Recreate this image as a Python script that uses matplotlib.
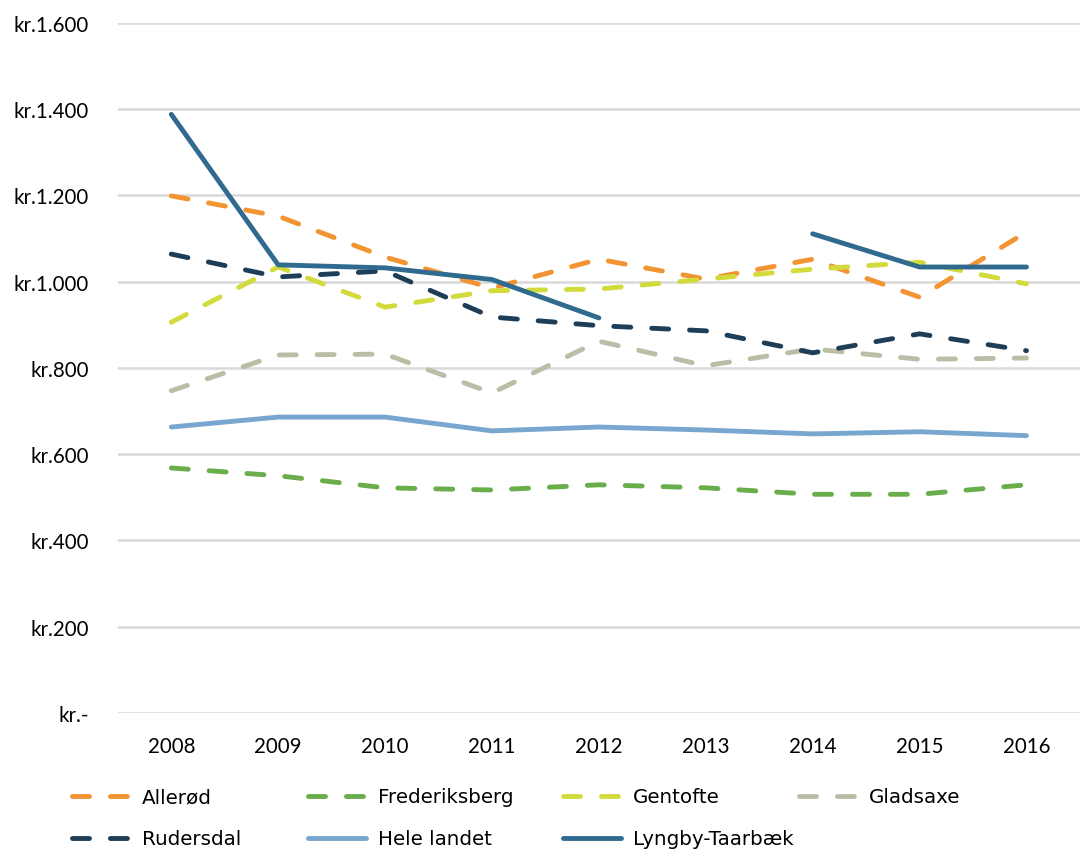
import numpy as np
import matplotlib
matplotlib.use("Agg")
import matplotlib.pyplot as plt
from matplotlib.ticker import FuncFormatter

plt.rcParams['font.family'] = ['Lato', 'DejaVu Sans']

years = ['2008', '2009', '2010', '2011', '2012', '2013', '2014', '2015', '2016']

allerod = [1199, 1152, 1057, 985, 1052, 1006, 1052, 964, 1115]
frederiksberg = [568, 550, 522, 517, 529, 522, 507, 507, 529]
gentofte = [906, 1034, 941, 979, 983, 1006, 1029, 1045, 995]
gladsaxe = [747, 830, 832, 742, 862, 805, 844, 820, 823]
rudersdal = [1064, 1011, 1025, 918, 898, 886, 835, 879, 840]
hele_landet = [663, 686, 686, 654, 663, 656, 647, 652, 643]
lyngby = [1388, 1039, 1032, 1005, 916, np.nan, 1111, 1034, 1034]

yticks = [0, 200, 400, 600, 800, 1000, 1200, 1400, 1600]


def kr(v, pos):
    if v == 0:
        return 'kr.-'
    return 'kr.' + f'{int(v):,}'.replace(',', '.')


fig = plt.figure(figsize=(10.81, 8.54), dpi=100)
ax = fig.add_axes([0.109, 0.164, 0.89, 0.808])

x = np.arange(len(years))
dash = (0, (3.5, 4.3))
series = [
    ('Allerød', allerod, '#F39433', dash),
    ('Frederiksberg', frederiksberg, '#6AAD4B', dash),
    ('Gentofte', gentofte, '#D3DB3C', dash),
    ('Gladsaxe', gladsaxe, '#BBBEA6', dash),
    ('Rudersdal', rudersdal, '#1E3E58', dash),
    ('Hele landet', hele_landet, '#78A6CF', '-'),
    ('Lyngby-Taarbæk', lyngby, '#306B8F', '-'),
]
lines = []
for name, vals, col, ls in series:
    ln, = ax.plot(x, vals, color=col, lw=3.5, linestyle=ls,
                  dash_capstyle='round', solid_capstyle='round', label=name)
    lines.append(ln)

ax.set_xlim(-0.5, len(years) - 0.5)
ax.set_ylim(0, 1600)
ax.set_yticks(yticks)
ax.yaxis.set_major_formatter(FuncFormatter(kr))
ax.set_xticks(x)
ax.set_xticklabels(years)
ax.grid(axis='y', color='#D9D9D9', lw=1.8)
ax.set_axisbelow(True)
for s in ax.spines.values():
    s.set_visible(False)
ax.tick_params(axis='both', length=0, labelsize=14.8, colors='black')
ax.tick_params(axis='x', pad=16.5)
ax.tick_params(axis='y', pad=21)

# legend laid out like the Excel one: 4 slots per row, one legend per entry
slot_x = [72, 308, 563, 799]
row_y = [798, 840]
W, H = 1081, 854
for i, ln in enumerate(lines):
    r, c = divmod(i, 4)
    fig.legend([ln], [ln.get_label()], loc='center left',
               bbox_to_anchor=(slot_x[c] / W, 1 - row_y[r] / H),
               frameon=False, prop={'family': 'DejaVu Sans', 'size': 14.3},
               handlelength=2.9, handletextpad=0.62,
               borderaxespad=0, borderpad=0)

fig.savefig('out.png', dpi=100)
